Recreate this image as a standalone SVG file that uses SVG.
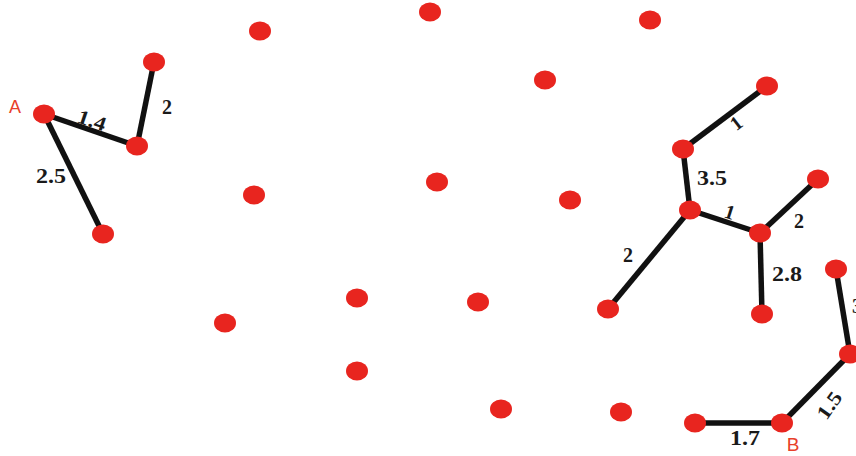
<svg xmlns="http://www.w3.org/2000/svg" width="856" height="456" viewBox="0 0 856 456">
<style>
.n{fill:#e8251f}
.e{stroke:#111;stroke-width:5.5;fill:none}
.w{font-family:"Liberation Serif",serif;font-weight:bold;font-size:20px;fill:#1a1a1a;text-anchor:middle;dominant-baseline:central}
.l{font-family:"Liberation Sans",sans-serif;font-size:19px;fill:#e8402a;text-anchor:middle;dominant-baseline:central}
</style>
<rect width="856" height="456" fill="#fff"/>
<g id="edges">
<line class="e" x1="44" y1="114" x2="137" y2="146"/>
<line class="e" x1="137" y1="146" x2="154" y2="62"/>
<line class="e" x1="44" y1="114" x2="103" y2="234"/>
<line class="e" x1="767" y1="86" x2="683" y2="149"/>
<line class="e" x1="683" y1="149" x2="690" y2="210"/>
<line class="e" x1="690" y1="210" x2="760" y2="233"/>
<line class="e" x1="760" y1="233" x2="818" y2="179"/>
<line class="e" x1="760" y1="233" x2="762" y2="314"/>
<line class="e" x1="690" y1="210" x2="608" y2="309"/>
<line class="e" x1="836" y1="269" x2="850" y2="354"/>
<line class="e" x1="850" y1="354" x2="782" y2="423"/>
<line class="e" x1="782" y1="423" x2="695" y2="423"/>
</g>
<g id="nodes">
<g id="nA"><ellipse class="n" cx="44" cy="114" rx="11" ry="9.5"/><text class="l" x="15" y="107" style="font-size:18px">A</text></g>
<g id="n1"><ellipse class="n" cx="154" cy="62" rx="11" ry="9.5"/></g>
<g id="n2"><ellipse class="n" cx="137" cy="146" rx="11" ry="9.5"/></g>
<g id="n3"><ellipse class="n" cx="103" cy="234" rx="11" ry="9.5"/></g>
<g id="n4"><ellipse class="n" cx="260" cy="31" rx="11" ry="9.5"/></g>
<g id="n5"><ellipse class="n" cx="430" cy="12" rx="11" ry="9.5"/></g>
<g id="n6"><ellipse class="n" cx="650" cy="20" rx="11" ry="9.5"/></g>
<g id="n7"><ellipse class="n" cx="545" cy="80" rx="11" ry="9.5"/></g>
<g id="n8"><ellipse class="n" cx="767" cy="86" rx="11" ry="9.5"/></g>
<g id="n9"><ellipse class="n" cx="683" cy="149" rx="11" ry="9.5"/></g>
<g id="n10"><ellipse class="n" cx="254" cy="195" rx="11" ry="9.5"/></g>
<g id="n11"><ellipse class="n" cx="437" cy="182" rx="11" ry="9.5"/></g>
<g id="n12"><ellipse class="n" cx="570" cy="200" rx="11" ry="9.5"/></g>
<g id="n13"><ellipse class="n" cx="690" cy="210" rx="11" ry="9.5"/></g>
<g id="n14"><ellipse class="n" cx="818" cy="179" rx="11" ry="9.5"/></g>
<g id="n15"><ellipse class="n" cx="760" cy="233" rx="11" ry="9.5"/></g>
<g id="n16"><ellipse class="n" cx="836" cy="269" rx="11" ry="9.5"/></g>
<g id="n17"><ellipse class="n" cx="225" cy="323" rx="11" ry="9.5"/></g>
<g id="n18"><ellipse class="n" cx="357" cy="298" rx="11" ry="9.5"/></g>
<g id="n19"><ellipse class="n" cx="478" cy="302" rx="11" ry="9.5"/></g>
<g id="n20"><ellipse class="n" cx="608" cy="309" rx="11" ry="9.5"/></g>
<g id="n21"><ellipse class="n" cx="762" cy="314" rx="11" ry="9.5"/></g>
<g id="n22"><ellipse class="n" cx="850" cy="354" rx="11" ry="9.5"/></g>
<g id="n23"><ellipse class="n" cx="357" cy="371" rx="11" ry="9.5"/></g>
<g id="n24"><ellipse class="n" cx="501" cy="409" rx="11" ry="9.5"/></g>
<g id="n25"><ellipse class="n" cx="621" cy="412" rx="11" ry="9.5"/></g>
<g id="n26"><ellipse class="n" cx="695" cy="423" rx="11" ry="9.5"/></g>
<g id="nB"><ellipse class="n" cx="782" cy="423" rx="11" ry="9.5"/><text class="l" x="793" y="444">B</text></g>
</g>
<g id="labels">
<text class="w" x="92" y="120" transform="rotate(19 92 120)" textLength="29" lengthAdjust="spacingAndGlyphs">1.4</text>
<text class="w" x="167" y="107">2</text>
<text class="w" x="51" y="176" textLength="30" lengthAdjust="spacingAndGlyphs">2.5</text>
<text class="w" x="736" y="123" transform="rotate(-37 736 123)">1</text>
<text class="w" x="712" y="178" textLength="30" lengthAdjust="spacingAndGlyphs">3.5</text>
<text class="w" x="730" y="212" transform="rotate(18 730 212)">1</text>
<text class="w" x="799" y="221">2</text>
<text class="w" x="628" y="255">2</text>
<text class="w" x="787" y="274" textLength="30" lengthAdjust="spacingAndGlyphs">2.8</text>
<text class="w" x="857" y="306">3</text>
<text class="w" x="829" y="405" transform="rotate(-55 829 405)" textLength="29" lengthAdjust="spacingAndGlyphs">1.5</text>
<text class="w" x="745" y="438" textLength="30" lengthAdjust="spacingAndGlyphs">1.7</text>
</g>
</svg>
